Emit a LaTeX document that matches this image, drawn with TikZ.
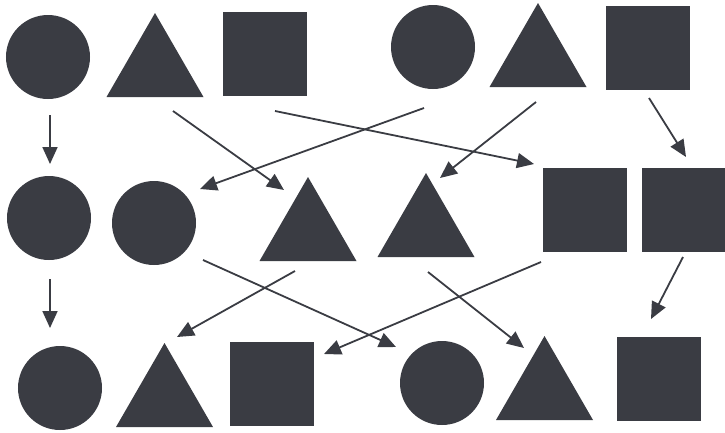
\documentclass[tikz,border=0pt]{standalone}
\usetikzlibrary{shapes.geometric, arrows.meta}

\definecolor{ink}{RGB}{58,60,67}

\tikzset{
  disc/.style={circle, fill=ink, inner sep=0pt, minimum size=84bp},
  tri/.style={regular polygon, regular polygon sides=3, fill=ink, inner sep=0pt, minimum size=112bp},
  sq/.style={rectangle, fill=ink, inner sep=0pt, minimum size=84bp},
  arr/.style={-{Triangle[length=17bp, width=15bp]}, line width=1.8bp, ink}
}

\begin{document}
\begin{tikzpicture}[x=1bp, y=-1bp]
  \useasboundingbox (0,0) rectangle (725,432);

  % Top row
  \node[disc] (c1) at (48,57) {};
  \node[tri]  (t1) at (155,69) {};
  \node[sq]   (s1) at (265,53.5) {};
  \node[disc] (c2) at (433,47) {};
  \node[tri]  (t2) at (538,59) {};
  \node[sq]   (s2) at (648,48) {};

  % Middle row
  \node[disc] (c3) at (49,218) {};
  \node[disc] (c4) at (154,223) {};
  \node[tri]  (t3) at (308,233) {};
  \node[tri]  (t4) at (426,229) {};
  \node[sq]   (s3) at (585,210) {};
  \node[sq]   (s4) at (683.5,210) {};

  % Bottom row
  \node[disc] (c5) at (60,388) {};
  \node[tri]  (t5) at (164.5,399) {};
  \node[sq]   (s5) at (272,384) {};
  \node[disc] (c6) at (442,383) {};
  \node[tri]  (t6) at (544.5,392) {};
  \node[sq]   (s6) at (658.5,378.5) {};

  % Arrow ends
  \coordinate (c1a) at (50,115);   \coordinate (c3b) at (50,164);
  \coordinate (t1a) at (173,111);  \coordinate (t3b) at (284,190);
  \coordinate (s1a) at (275,111);  \coordinate (s3b) at (534,164);
  \coordinate (c2a) at (424,108);  \coordinate (c4b) at (200,189);
  \coordinate (t2a) at (536,102);  \coordinate (t4b) at (440,178);
  \coordinate (s2a) at (649,98);   \coordinate (s4b) at (686,157);
  \coordinate (c3a) at (50,279);   \coordinate (c5b) at (50,328);
  \coordinate (c4a) at (203,260);  \coordinate (c6b) at (396,347);
  \coordinate (t3a) at (295,271);  \coordinate (t5b) at (177,337);
  \coordinate (t4a) at (428,272);  \coordinate (t6b) at (524,348);
  \coordinate (s3a) at (541,262);  \coordinate (s5b) at (324,354);
  \coordinate (s4a) at (683,257);  \coordinate (s6b) at (651,319);

  % Arrows
  \draw[arr] (c1a) -- (c3b);
  \draw[arr] (t1a) -- (t3b);
  \draw[arr] (s1a) -- (s3b);
  \draw[arr] (c2a) -- (c4b);
  \draw[arr] (t2a) -- (t4b);
  \draw[arr] (s2a) -- (s4b);
  \draw[arr] (c3a) -- (c5b);
  \draw[arr] (c4a) -- (c6b);
  \draw[arr] (t3a) -- (t5b);
  \draw[arr] (t4a) -- (t6b);
  \draw[arr] (s3a) -- (s5b);
  \draw[arr] (s4a) -- (s6b);
\end{tikzpicture}
\end{document}
